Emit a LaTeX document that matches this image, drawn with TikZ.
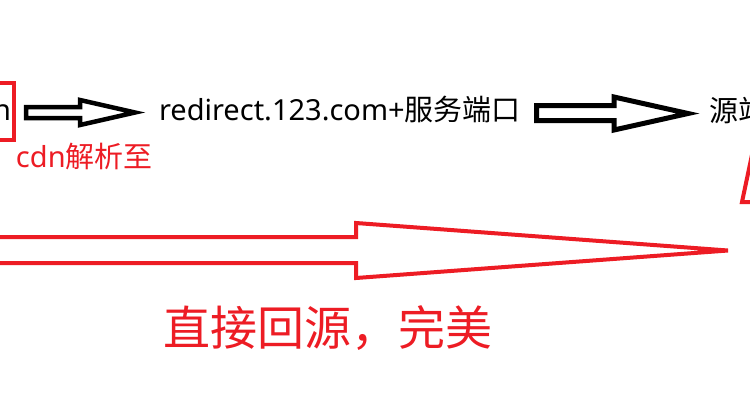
\documentclass[tikz,border=0pt]{standalone}
\usepackage{fontspec}
\setmainfont{Noto Sans}
\newfontfamily\cjk{Noto Sans CJK SC}
\definecolor{pred}{RGB}{237,28,36}
\begin{document}
\begin{tikzpicture}[x=1pt,y=-1pt,
  lbl/.style={inner sep=0pt, outer sep=0pt, anchor=base west, font=\fontsize{29}{33}\selectfont},
  biglbl/.style={lbl, font=\fontsize{47}{53}\selectfont\cjk},
  blockarrow/.style={draw=black, fill=white, line join=miter, miter limit=10},
  redline/.style={draw=pred, line join=miter}]
\useasboundingbox (0,0) rectangle (750,400);
\fill[white] (0,0) rectangle (750,400);
\clip (0,0) rectangle (750,400);
% partial node at left edge
\node[lbl, anchor=base east] (src) at (11,120) {n};
\draw[redline, line width=3.5pt] (-10,83) -- (14,83) -- (14,140) -- (-10,140);
\node[lbl, text=pred] (cdn) at (16,167) {cdn{\cjk 解析至}};
% first black arrow
\draw[blockarrow, line width=4.5pt] (26,107) -- (80,107) -- (80,100) -- (135,112.5)
  -- (80,125) -- (80,118) -- (26,118) -- cycle;
\node[lbl] (redir) at (159,120) {redirect.123.com+{\cjk 服务端口}};
% second black arrow
\draw[blockarrow, line width=5pt] (536.5,105.5) -- (614,105.5) -- (614,97) -- (688,113.5)
  -- (614,130) -- (614,120.5) -- (536.5,120.5) -- cycle;
\node[lbl] (origin) at (709,121) {\cjk 源站};
% red big arrow
\draw[redline, line width=4pt] (-10,237) -- (356,237) -- (356,223) -- (728,250.5)
  -- (356,278) -- (356,263) -- (-10,263);
% partial red arrow at right edge
\draw[redline, line width=4pt] (753,150) -- (742,202) -- (770,202);
\node[biglbl, text=pred] (direct) at (163,345) {直接回源，完美};
\end{tikzpicture}
\end{document}
